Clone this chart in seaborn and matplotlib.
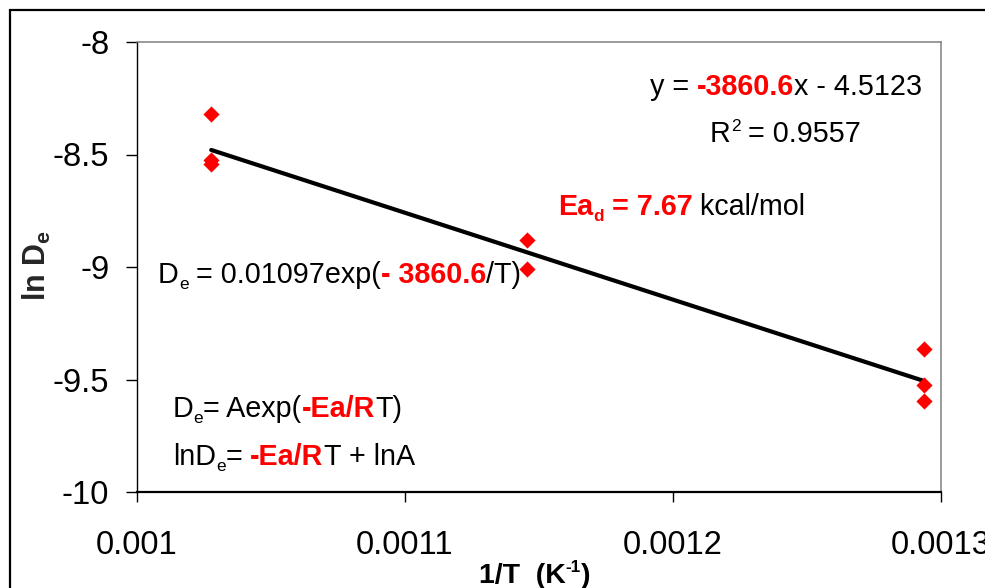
import matplotlib
matplotlib.use("Agg")
import matplotlib.pyplot as plt
from matplotlib.patches import Rectangle
from matplotlib.font_manager import FontProperties
import seaborn as sns
import numpy as np
import pandas as pd

# ---- data ----
inv_T = [0.0010277, 0.0010277, 0.0010277,
         0.0011455, 0.0011455,
         0.0012937, 0.0012937, 0.0012937]
ln_De = [-8.32, -8.524, -8.542,
         -8.88, -9.009,
         -9.364, -9.524, -9.594]
fit_slope = -3860.6
fit_intercept = -4.5123
x_ticks = [0.001, 0.0011, 0.0012, 0.0013]
x_tick_labels = ["0.001", "0.0011", "0.0012", "0.0013"]
y_ticks = [-10, -9.5, -9, -8.5, -8]
y_tick_labels = ["-10", "-9.5", "-9", "-8.5", "-8"]

df = pd.DataFrame({"invT": inv_T, "lnDe": ln_De})
x_fit = np.array([min(inv_T), max(inv_T)])
fit_df = pd.DataFrame({"invT": x_fit, "lnDe": fit_slope * x_fit + fit_intercept})

sns.set_theme(style="white")
FAM = ["Liberation Sans", "DejaVu Sans"]
plt.rcParams["font.family"] = FAM
plt.rcParams["mathtext.fontset"] = "custom"
plt.rcParams["mathtext.rm"] = "Liberation Sans"
plt.rcParams["mathtext.bf"] = "Liberation Sans:bold"

W, H = 985, 588
fig = plt.figure(figsize=(W / 100, H / 100), dpi=100)
fig.patch.set_facecolor("white")
ax = fig.add_axes([137 / W, 1 - 492 / H, (941 - 137) / W, (492 - 42) / H])

sns.lineplot(data=fit_df, x="invT", y="lnDe", color="black", lw=3, ax=ax)
sns.scatterplot(data=df, x="invT", y="lnDe", marker="D", s=68, color="#ff0000",
                linewidth=0, ax=ax, zorder=3)

ax.set_xlim(0.001, 0.0013)
ax.set_ylim(-10, -8)
ax.set_xticks(x_ticks)
ax.set_xticklabels(x_tick_labels)
ax.set_yticks(y_ticks)
ax.set_yticklabels(y_tick_labels)
ax.tick_params(axis="y", direction="out", length=8, width=1, pad=12,
               labelsize=23.5, colors="black", left=True)
ax.tick_params(axis="x", direction="out", length=7, width=1, pad=20,
               labelsize=23.5, colors="black", bottom=True)
ax.set_xlabel("")
ax.set_ylabel("")
ax.grid(False)
ax.set_facecolor("white")

for side in ["top", "right"]:
    ax.spines[side].set_color("#808080")
    ax.spines[side].set_linewidth(1.1)
ax.spines["left"].set_color("black")
ax.spines["left"].set_linewidth(1.0)
ax.spines["bottom"].set_color("black")
ax.spines["bottom"].set_linewidth(1.6)

# y axis title
fig.text(37 / W, 1 - 265 / H, r"ln D$_{\mathbf{e}}$", ha="center", va="center",
         fontsize=22, fontweight="bold", rotation=90)

# figure frame
fig.add_artist(Rectangle((9.5 / W, -0.05), 1.1, 1 - 9.5 / H + 0.05,
                         transform=fig.transFigure, fill=False,
                         edgecolor="black", lw=1.6, clip_on=False))

renderer = fig.canvas.get_renderer()
RED = "#ff0000"


def adv(s, fp):
    w1, _, _ = renderer.get_text_width_height_descent("x" + s + "x", fp, ismath=False)
    w0, _, _ = renderer.get_text_width_height_descent("xx", fp, ismath=False)
    return w1 - w0


def rich(x_px, base_px, pieces, size=20.7):
    x = x_px
    for p in pieces:
        text, color, weight = p[0], p[1], p[2]
        scale = p[3] if len(p) > 3 else 1.0
        dy = p[4] if len(p) > 4 else 0.0
        fs = size * scale
        fig.text(x / W, 1 - (base_px + dy) / H, text, color=color,
                 fontweight=weight, fontsize=fs, ha="left", va="baseline",
                 family=FAM)
        fp = FontProperties(family=FAM, weight=weight, size=fs)
        x += adv(text, fp)


K = "black"
# x axis title
rich(479, 583, [("1/T  (K", K, "bold"), ("-1", K, "bold", 0.6, -11),
                (")", K, "bold")], size=20.5)

rich(650, 95, [("y = ", K, "normal"), ("-3860.6", RED, "bold"),
               ("x - 4.5123", K, "normal")])
rich(710, 142, [("R", K, "normal"), ("2", K, "normal", 0.6, -11),
                (" = 0.9557", K, "normal")])
rich(558, 215, [("Ea", RED, "bold"), ("d", RED, "bold", 0.6, 6),
                (" = 7.67", RED, "bold"), (" kcal/mol", K, "normal")])
rich(158, 283, [("D", K, "normal"), ("e", K, "normal", 0.6, 6),
                (" = 0.01097exp(", K, "normal"), ("- 3860.6", RED, "bold"),
                ("/T)", K, "normal")])
rich(173, 417, [("D", K, "normal"), ("e", K, "normal", 0.6, 6),
                ("= Aexp(", K, "normal"), ("-Ea/R", RED, "bold"),
                ("T)", K, "normal")])
rich(173, 465, [("lnD", K, "normal"), ("e", K, "normal", 0.6, 6),
                ("= ", K, "normal"), ("-Ea/R", RED, "bold"),
                ("T + lnA", K, "normal")])

fig.savefig("out.png", dpi=100, facecolor="white")
